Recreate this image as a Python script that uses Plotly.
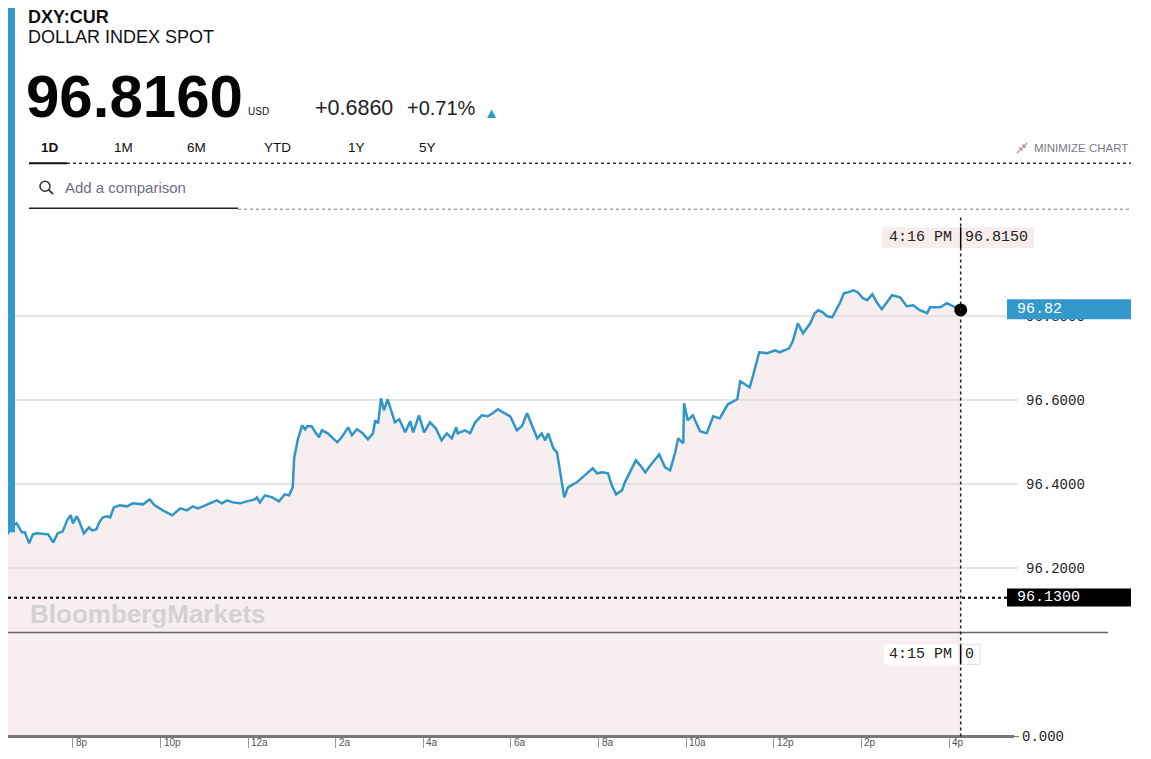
import plotly.graph_objects as go

# DXY:CUR 1D - valeurs lues sur l'image
# minutes apres 18h00 (veille) jusqu'a 16h16
minutes = [30, 38, 43, 50, 54, 60, 65, 71, 86, 93, 99, 106, 112, 117, 120, 125, 128, 135,
           142, 146, 152, 156, 161, 167, 171, 176, 184, 194, 202, 216, 225, 232, 243, 256,
           267, 276, 284, 291, 298, 308, 317, 324, 331, 339, 349, 358, 369, 372, 376, 383,
           393, 402, 410, 416, 421, 423, 425, 428, 434, 438, 441, 447, 452, 457, 461, 469,
           482, 488, 497, 502, 509, 517, 524, 531, 534, 538, 542, 546, 551, 561, 567, 575,
           582, 586, 594, 601, 609, 617, 625, 632, 639, 645, 647, 657, 664, 671, 680, 688,
           695, 702, 709, 719, 728, 735, 742, 749, 756, 762, 767, 771, 778, 783, 787, 793,
           798, 810, 821, 832, 838, 845, 853, 858, 864, 872, 876, 891, 897, 904, 910, 917,
           923, 931, 938, 945, 949, 956, 957, 962, 969, 979, 988, 997, 1006, 1017, 1030,
           1034, 1047, 1052, 1060, 1071, 1082, 1088, 1101, 1106, 1113, 1120, 1130, 1136,
           1141, 1147, 1153, 1160, 1167, 1171, 1176, 1182, 1189, 1195, 1202, 1208, 1215,
           1221, 1228, 1235, 1242, 1253, 1262, 1271, 1280, 1290, 1294, 1308, 1317, 1336]
prices = [96.2810, 96.3024, 96.3071, 96.2857, 96.2857, 96.2595, 96.2810, 96.2833, 96.2810,
          96.2619, 96.2833, 96.2881, 96.3143, 96.3262, 96.3071, 96.3238, 96.3143, 96.2833,
          96.2976, 96.2905, 96.2929, 96.3095, 96.3214, 96.3238, 96.3214, 96.3452, 96.3500,
          96.3476, 96.3548, 96.3524, 96.3643, 96.3500, 96.3381, 96.3262, 96.3429, 96.3381,
          96.3476, 96.3429, 96.3476, 96.3548, 96.3619, 96.3548, 96.3619, 96.3571, 96.3548,
          96.3595, 96.3643, 96.3690, 96.3571, 96.3738, 96.3690, 96.3595, 96.3762, 96.3738,
          96.3929, 96.4619, 96.4810, 96.5071, 96.5405, 96.5310, 96.5381, 96.5381, 96.5238,
          96.5119, 96.5286, 96.5214, 96.5000, 96.5119, 96.5357, 96.5167, 96.5310, 96.5214,
          96.5071, 96.5214, 96.5524, 96.5452, 96.6048, 96.5762, 96.6024, 96.5476, 96.5548,
          96.5238, 96.5500, 96.5238, 96.5643, 96.5238, 96.5476, 96.5333, 96.5048, 96.5214,
          96.5095, 96.5357, 96.5214, 96.5286, 96.5214, 96.5476, 96.5643, 96.5619, 96.5690,
          96.5786, 96.5714, 96.5619, 96.5286, 96.5381, 96.5690, 96.5405, 96.5095, 96.5214,
          96.5048, 96.5214, 96.4857, 96.4762, 96.4333, 96.3690, 96.3929, 96.4048, 96.4214,
          96.4381, 96.4262, 96.4286, 96.4262, 96.3976, 96.3762, 96.3857, 96.4048, 96.4571,
          96.4452, 96.4286, 96.4429, 96.4571, 96.4714, 96.4405, 96.4333, 96.4762, 96.5095,
          96.4976, 96.5929, 96.5524, 96.5643, 96.5262, 96.5214, 96.5619, 96.5571, 96.5905,
          96.6024, 96.6452, 96.6310, 96.6619, 96.7143, 96.7119, 96.7190, 96.7143, 96.7238,
          96.7405, 96.7833, 96.7595, 96.7833, 96.8071, 96.8143, 96.8095, 96.8000, 96.7976,
          96.8214, 96.8333, 96.8548, 96.8571, 96.8619, 96.8571, 96.8429, 96.8381, 96.8524,
          96.8333, 96.8167, 96.8333, 96.8500, 96.8452, 96.8238, 96.8262, 96.8143, 96.8071,
          96.8214, 96.8214, 96.8310, 96.8150]

tick_minutes = [120, 240, 360, 480, 600, 720, 840, 960, 1080, 1200, 1320]
tick_labels = ["8p", "10p", "12a", "2a", "4a", "6a", "8a", "10a", "12p", "2p", "4p"]
price_ticks = [96.2, 96.4, 96.6, 96.8]
prev_close = 96.13
last_price = 96.8160
change = 0.6860
change_pct = 0.71
tabs = ["1D", "1M", "6M", "YTD", "1Y", "5Y"]
tab_x = [39, 112, 185, 262, 346, 417]

BLUE = "#3399cc"
PINK = "#f7eded"
SANS = "Liberation Sans"
MONO = "Liberation Mono"

# coordonnees ecran -> papier (marge de page 8px, leger ecrasement vertical constate)
W, H = 1135, 751
SY = 0.9875
def px(x):
    return (x - 8) / W
def py(y):
    return 1 - (y / SY - 8) / H

def hline(x0, x1, y, color, width, dash="solid"):
    return dict(type="line", xref="paper", yref="paper", x0=px(x0), x1=px(x1),
                y0=py(y), y1=py(y), line=dict(color=color, width=width, dash=dash))

def seg(x0, y0, x1, y1, color, width):
    return dict(type="line", xref="paper", yref="paper", x0=px(x0), x1=px(x1),
                y0=py(y0), y1=py(y1), line=dict(color=color, width=width))

def box(x0, x1, y0, y1, fill, border=None):
    return dict(type="rect", xref="paper", yref="paper", x0=px(x0), x1=px(x1),
                y0=py(y1), y1=py(y0), fillcolor=fill,
                line=dict(color=border or fill, width=1 if border else 0))

def txt(text, x, y, size, color="#111", font=SANS, anchor="left"):
    return dict(text=text, x=px(x), y=py(y), xref="paper", yref="paper",
                xanchor=anchor, yanchor="middle", showarrow=False,
                font=dict(family=font, size=size, color=color))

end_min = minutes[-1]
hh = (18 * 60 + end_min) // 60 % 24
end_label = "%d:%02d %s" % (hh % 12 or 12, (18 * 60 + end_min) % 60, "PM" if hh >= 12 else "AM")

fig = go.Figure()
fig.add_trace(go.Scatter(x=minutes, y=prices, mode="lines",
                         line=dict(color="#2f96c8", width=2.5),
                         fill="tozeroy", fillcolor="rgba(232,209,209,0.35)",
                         hoverinfo="skip"))
fig.add_trace(go.Scatter(x=[minutes[-1]], y=[prices[-1]], mode="markers",
                         marker=dict(color="black", size=13), hoverinfo="skip"))
fig.add_trace(go.Scatter(x=minutes, y=[0] * len(minutes), yaxis="y2", mode="lines",
                         line=dict(width=0), hoverinfo="skip"))

shapes = [
    box(8, 15, -10, 532, BLUE),
    hline(29, 67, 163, "#111", 2),
    hline(67, 1131, 163, "#333", 1.5, "dot"),
    dict(type="circle", xref="paper", yref="paper", x0=px(40), x1=px(50),
         y0=py(191), y1=py(181), line=dict(color="#333", width=1.5)),
    seg(48.5, 189.5, 53, 194, "#333", 1.8),
    hline(29, 238, 208, "#222", 1.5),
    hline(238, 1131, 209, "#777", 1, "dot"),
    seg(1017, 153, 1022, 148, "#b58a93", 1.2),
    seg(1019, 148, 1022, 148, "#b58a93", 1.2),
    seg(1022, 148, 1022, 151, "#b58a93", 1.2),
    seg(1027, 143, 1023, 147, "#8a8a96", 1.2),
    seg(1023, 144, 1023, 147, "#8a8a96", 1.2),
    seg(1023, 147, 1026, 147, "#8a8a96", 1.2),
    # remplissage du panneau volume
    dict(type="rect", xref="x", yref="y2 domain", x0=minutes[0], x1=minutes[-1],
         y0=0, y1=1, fillcolor="rgba(232,209,209,0.35)", line=dict(width=0), layer="below"),
    hline(8, 1108, 632, "#666", 1.5),
    hline(8, 1014, 736, "#777", 3),
    hline(1014, 1019, 736, "#777", 1),
    # cloture precedente
    dict(type="line", xref="paper", yref="y", x0=0, x1=px(1007), y0=prev_close,
         y1=prev_close, line=dict(color="black", width=2, dash="dot")),
    # curseur vertical
    dict(type="line", xref="x", yref="paper", x0=end_min, x1=end_min,
         y0=py(736), y1=py(217), line=dict(color="#222", width=1.5, dash="dot")),
    box(882, 1034, 227, 248, PINK),
    dict(type="line", xref="x", yref="paper", x0=end_min, x1=end_min,
         y0=py(248), y1=py(227), line=dict(color="black", width=1.5)),
    box(884, 958, 644, 664, "white"),
    box(960, 980, 644, 664, "white", "#f0dde0"),
    dict(type="line", xref="x", yref="paper", x0=end_min, x1=end_min,
         y0=py(664), y1=py(644), line=dict(color="black", width=1.5)),
    box(1007, 1131, 299, 319, BLUE),
    box(1007, 1131, 588, 606, "black"),
]

annotations = [
    txt("<b>DXY:CUR</b>", 26, 17, 18),
    txt("DOLLAR INDEX SPOT", 26, 37, 18),
    txt("<b>%.4f</b>" % last_price, 24, 96, 60, "#050505"),
    txt("USD", 246, 111, 10),
    txt("%+.4f" % change, 313, 108, 21.5, "#222"),
    txt("%+.2f%%" % change_pct, 405, 108, 20, "#222"),
    txt("▲", 482, 112, 15, BLUE),
    txt("Add a comparison", 63, 187, 15, "#6e6e80"),
    txt("MINIMIZE CHART", 1032, 148, 11.5, "#7a7a86"),
    txt("<b>BloombergMarkets</b>", 28, 614, 26, "#d2d2d2"),
    txt(end_label, 887, 237, 15, "#222", MONO),
    txt("%.4f" % prices[-1], 963, 237, 15, "#222", MONO),
    txt("4:15 PM", 887, 654, 15, "#222", MONO),
    txt("0", 963, 654, 15, "#222", MONO),
    txt("%.2f" % last_price, 1015, 309, 15, "white", MONO),
    txt("%.4f" % prev_close, 1015, 597, 15, "white", MONO),
]
for lab, x in zip(tabs, tab_x):
    annotations.append(txt("<b>%s</b>" % lab if lab == "1D" else lab, x, 147, 13.5, "#111"))
for m, lab in zip(tick_minutes, tick_labels):
    annotations.append(dict(text=lab, x=m, y=py(742), xref="x", yref="paper",
                            xanchor="left", yanchor="middle", xshift=1, showarrow=False,
                            font=dict(family=SANS, size=10, color="#555")))

fig.update_layout(
    width=W, height=H,
    margin=dict(l=0, r=0, t=0, b=0),
    paper_bgcolor="white", plot_bgcolor="rgba(0,0,0,0)",
    showlegend=False,
    xaxis=dict(domain=[0, px(1018)], range=[31, 1414.5], anchor="y2",
               tickvals=tick_minutes, showticklabels=False, ticks="outside",
               ticklen=11, tickcolor="#999", tickwidth=1,
               showgrid=False, zeroline=False, showline=False, fixedrange=True),
    yaxis=dict(domain=[py(632), py(217)], range=[96.0476, 97.0357], side="right",
               anchor="x", tickvals=price_ticks,
               ticktext=["%.4f" % v for v in price_ticks],
               gridcolor="#e6e6e6", gridwidth=2, zeroline=False, ticks="",
               ticklabelstandoff=7,
               tickfont=dict(family=MONO, size=14, color="#222"), fixedrange=True),
    yaxis2=dict(domain=[py(736), py(632)], range=[0, 1], side="right", anchor="x",
                tickvals=[0], ticktext=["0.000"], showgrid=False, zeroline=False,
                ticks="", ticklabelstandoff=3,
                tickfont=dict(family=MONO, size=14, color="#222"), fixedrange=True),
    shapes=shapes,
    annotations=annotations,
)

fig.write_html("out.html")
